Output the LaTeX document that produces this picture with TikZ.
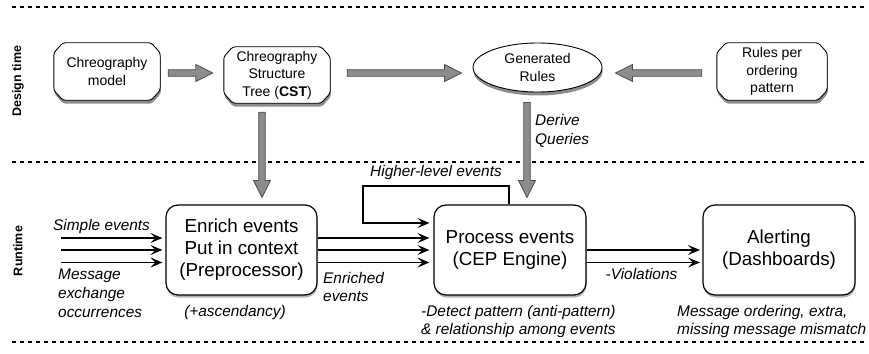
\documentclass[tikz,border=0pt]{standalone}
\usepackage{fontspec}
\setmainfont{Liberation Sans}
\usetikzlibrary{calc,shapes.geometric,arrows.meta,shadows,backgrounds}
\definecolor{arrowfill}{HTML}{8C8C8C}
\definecolor{arrowline}{HTML}{4F4F4F}
\tikzset{
  smallfont/.style={font=\fontsize{14}{17.5}\selectfont},
  bigfont/.style={font=\fontsize{18.8}{22}\selectfont},
  lblfont/.style={font=\fontsize{15.4}{18.8}\selectfont\itshape},
  sidefont/.style={font=\fontsize{12.5}{14}\selectfont\bfseries},
  chnode/.style={smallfont, align=center, inner sep=0pt, minimum width=106pt, minimum height=57pt},
  chline/.style={draw=black, line width=0.9pt, fill=white, rounded corners=2.5pt,
    drop shadow={shadow xshift=0.6pt, shadow yshift=-3.5pt, opacity=0.45, fill=black}},
  genell/.style={ellipse, draw=black, line width=0.9pt, fill=white, smallfont, align=center,
    inner sep=0pt, minimum width=129pt, minimum height=49pt,
    drop shadow={shadow xshift=0.6pt, shadow yshift=-3.5pt, opacity=0.45, fill=black}},
  bigbox/.style={draw=black, line width=1.2pt, fill=white, rounded corners=12pt, bigfont, align=center,
    inner sep=0pt, minimum width=151pt, minimum height=90pt,
    drop shadow={shadow xshift=0.5pt, shadow yshift=-2.5pt, opacity=0.3, fill=black}},
  blk/.style={draw=arrowline, fill=arrowfill, line width=0.8pt, line join=miter},
  arr/.style={line width=1.7pt, -{Stealth[length=12pt,width=10pt,inset=5pt]}},
  lbl/.style={lblfont, inner sep=0pt, align=left},
  sep/.style={line width=1.6pt, dash pattern=on 4pt off 4pt},
}
\newcommand\blkarrow[2]{%
  \coordinate (ba-s) at (#1);
  \coordinate (ba-e) at (#2);
  \coordinate (ba-h) at ($(ba-e)!17pt!(ba-s)$);
  \draw[blk] ($(ba-s)!3.3pt!90:(ba-e)$) -- ($(ba-h)!3.3pt!90:(ba-e)$) -- ($(ba-h)!8.5pt!90:(ba-e)$)
    -- (ba-e) -- ($(ba-h)!8.5pt!-90:(ba-e)$) -- ($(ba-h)!3.3pt!-90:(ba-e)$)
    -- ($(ba-s)!3.3pt!-90:(ba-e)$) -- cycle;}
\newcommand\chamf[1]{%
  \draw[chline] ([xshift=9pt]#1.north west) -- ([xshift=-9pt]#1.north east)
    -- ([yshift=-10pt]#1.north east) -- ([yshift=10pt]#1.south east)
    -- ([xshift=-9pt]#1.south east) -- ([xshift=9pt]#1.south west)
    -- ([yshift=10pt]#1.south west) -- ([yshift=-10pt]#1.north west) -- cycle;}
\begin{document}
\begin{tikzpicture}[x=1pt,y=-1pt]
\useasboundingbox (0,0) rectangle (869,353);
% separators
\draw[sep] (12,7) -- (866,7);
\draw[sep] (12,162) -- (866,162);
\draw[sep] (12,342) -- (866,342);
% side labels
\node[sidefont, rotate=90] (dt) at (18,81) {Design time};
\node[sidefont, rotate=90] (rt) at (18,251) {Runtime};
% design time nodes
\node[chnode] (cm) at (107,71.5) {Chreography\\model};
\node[chnode, minimum height=56pt] (cst) at (277,75) {Chreography\\Structure\\Tree (\textbf{CST})};
\node[genell] (gen) at (537.5,67.5) {Generated\\Rules};
\node[chnode, minimum width=110pt] (rules) at (772,71.5) {Rules per\\ordering\\pattern};
\begin{scope}[on background layer]
  \chamf{cm}
  \chamf{cst}
  \chamf{rules}
\end{scope}
% runtime nodes
\node[bigbox] (enrich) at (241.5,250) {Enrich events\\Put in context\\(Preprocessor)};
\node[bigbox, minimum width=152pt] (process) at (510,250) {Process events\\(CEP Engine)};
\node[bigbox, minimum width=152pt] (alert) at (779,250) {Alerting\\(Dashboards)};
% block arrows
\blkarrow{$(cm.east)+(8,1.5)$}{$(cst.west)+(-11,-2)$}
\blkarrow{$(cst.east)+(17,-2)$}{$(gen.west)+(-11,5.5)$}
\blkarrow{$(rules.west)+(-15,1.5)$}{$(gen.east)+(13,5.5)$}
\blkarrow{$(cst.south)+(-15,9)$}{$(enrich.north)+(20.5,-7)$}
\blkarrow{$(gen.south)+(-10.5,10)$}{$(process.north)+(17,-7)$}
% row coordinates
\coordinate (r0) at (0,223);
\coordinate (r1) at (0,238);
\coordinate (r2) at (0,250);
\coordinate (r3) at (0,262.5);
\coordinate (i1) at (61,238);
\coordinate (i2) at (61,250);
\coordinate (i3) at (61,262.5);
\coordinate (loopc) at (363,186);
% input arrows
\draw[arr, shorten >=3pt] (i1) -- (i1 -| enrich.west);
\draw[arr, shorten >=3pt] (i2) -- (i2 -| enrich.west);
\draw[arr, shorten >=3pt] (i3) -- (i3 -| enrich.west);
% enrich -> process
\draw[arr, shorten >=4pt] (enrich.east |- r1) -- (process.west |- r1);
\draw[arr, shorten >=4pt] (enrich.east |- r2) -- (process.west |- r2);
\draw[arr, shorten >=4pt] (enrich.east |- r3) -- (process.west |- r3);
% loop
\draw[arr, shorten >=4pt] ([xshift=-1pt]process.north) |- (loopc) |- (process.west |- r0);
% process -> alert
\draw[arr, shorten >=2.5pt] (process.east |- r2) -- (alert.west |- r2);
\draw[arr, shorten >=2.5pt] (process.east |- r3) -- (alert.west |- r3);
% labels
\node[lbl, anchor=west] (lsimple) at (53,227) {Simple events};
\node[lbl, anchor=west] (lmsg) at (58,293) {Message\\exchange\\occurrences};
\node[lbl] (lasc) at (235,313) {(+ascendancy)};
\node[lbl, anchor=west] (lenr) at (323,287) {Enriched\\events};
\node[lbl] (lhigh) at (436,173) {Higher-level events};
\node[lbl, anchor=west] (lder) at (535,131) {Derive\\Queries};
\node[lbl] (lviol) at (641.5,274) {-Violations};
\node[lbl, anchor=west, font=\fontsize{15.4}{18}\selectfont\itshape] (ldet) at (421,322) {-Detect pattern (anti-pattern)\\\& relationship among events};
\node[lbl, anchor=west, font=\fontsize{15.4}{18}\selectfont\itshape] (lord) at (677,322) {Message ordering, extra,\\missing message mismatch};
\end{tikzpicture}
\end{document}
